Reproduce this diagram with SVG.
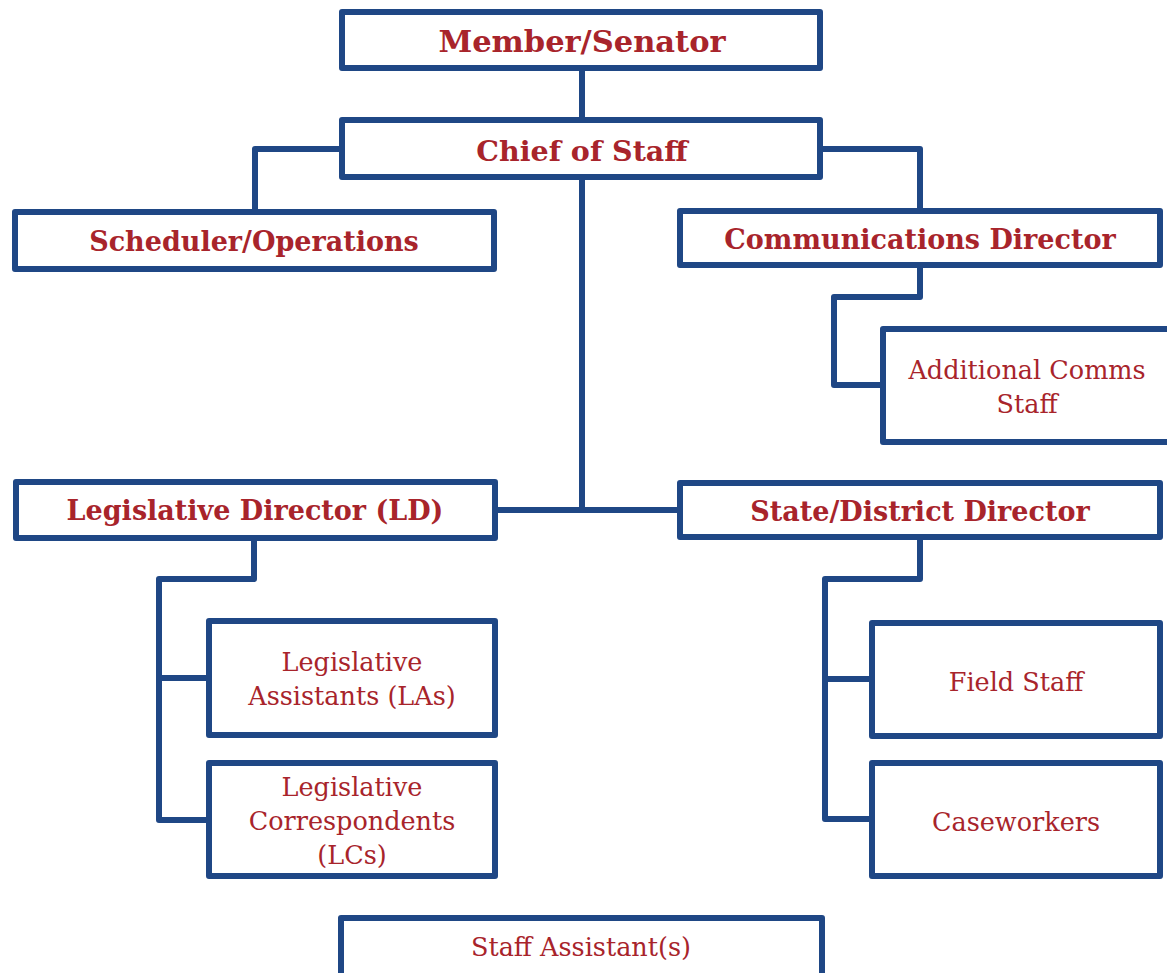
<svg xmlns="http://www.w3.org/2000/svg" width="1167" height="973" viewBox="0 0 1167 973">
<style>
.box{fill:#fff;stroke:#1f4785;stroke-width:6;stroke-linejoin:round}
.conn{fill:none;stroke:#1f4785;stroke-width:6;stroke-linejoin:round}
.t{font-family:"DejaVu Serif","Liberation Serif",serif;fill:#a8242b;text-anchor:middle}
.b{font-weight:bold;font-size:27px}
.r{font-size:25.5px}
</style>
<rect width="1167" height="973" fill="#fff"/>
<g id="connectors">
<path class="conn" d="M582 71V117"/>
<path class="conn" d="M342 149H255V209"/>
<path class="conn" d="M820 149H920V208"/>
<path class="conn" d="M920 268V297H834V385H880"/>
<path class="conn" d="M582 180V510"/>
<path class="conn" d="M498 510H677"/>
<path class="conn" d="M254 541V579H159V820H206"/>
<path class="conn" d="M159 678H206"/>
<path class="conn" d="M920 540V579H825V819H869"/>
<path class="conn" d="M825 679H869"/>
</g>
<g id="member"><rect class="box" x="342" y="12" width="478" height="56"/><text class="t b" x="582" y="52" style="font-size:30.5px">Member/Senator</text></g>
<g id="chief"><rect class="box" x="342" y="120" width="478" height="57"/><text class="t b" x="582" y="161" style="font-size:28.5px">Chief of Staff</text></g>
<g id="scheduler"><rect class="box" x="15" y="212" width="479" height="57"/><text class="t b" x="254" y="251">Scheduler/Operations</text></g>
<g id="comms"><rect class="box" x="680" y="211" width="480" height="54"/><text class="t b" x="920" y="249">Communications Director</text></g>
<g id="addcomms"><rect class="box" x="883" y="329" width="290" height="113"/><text class="t r" x="1027" y="379">Additional Comms</text><text class="t r" x="1027" y="413">Staff</text></g>
<g id="ld"><rect class="box" x="16" y="482" width="479" height="56"/><text class="t b" x="255" y="520">Legislative Director (LD)</text></g>
<g id="sdd"><rect class="box" x="680" y="483" width="480" height="54"/><text class="t b" x="920" y="521">State/District Director</text></g>
<g id="las"><rect class="box" x="209" y="621" width="286" height="114"/><text class="t r" x="352" y="671">Legislative</text><text class="t r" x="352" y="705">Assistants (LAs)</text></g>
<g id="lcs"><rect class="box" x="209" y="763" width="286" height="113"/><text class="t r" x="352" y="796">Legislative</text><text class="t r" x="352" y="830">Correspondents</text><text class="t r" x="352" y="864">(LCs)</text></g>
<g id="field"><rect class="box" x="872" y="623" width="288" height="113"/><text class="t r" x="1016" y="691">Field Staff</text></g>
<g id="case"><rect class="box" x="872" y="763" width="288" height="113"/><text class="t r" x="1016" y="831">Caseworkers</text></g>
<g id="staffasst"><rect class="box" x="341" y="918" width="481" height="62"/><text class="t r" x="581" y="956">Staff Assistant(s)</text></g>
</svg>
